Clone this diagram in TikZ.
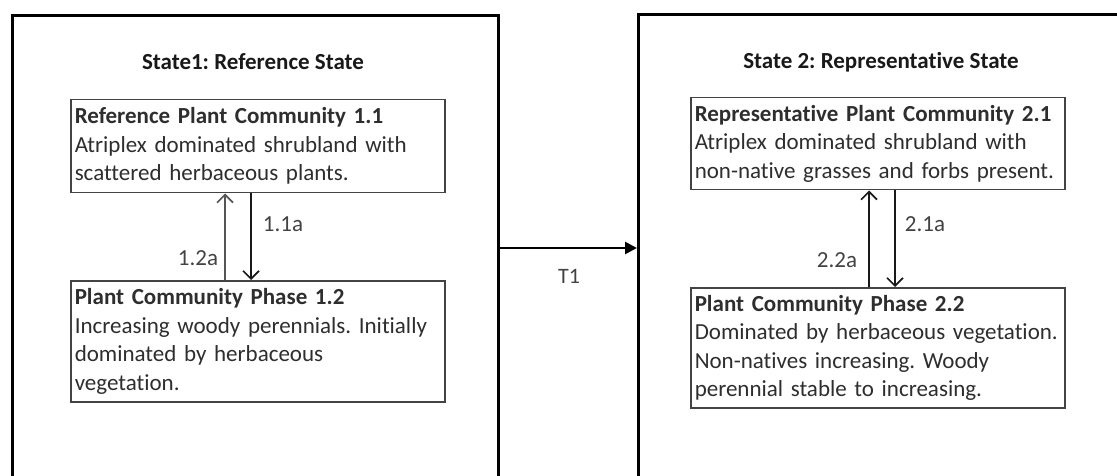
\documentclass[tikz,border=0pt]{standalone}
\usepackage{fontspec}
\setmainfont{Carlito}[Ligatures=CommonOff]
\usetikzlibrary{arrows.meta}
\definecolor{txt}{HTML}{2E2E2E}
\definecolor{upgray}{HTML}{555555}
\tikzset{
  statebox/.style={draw=black, line width=3pt, minimum width=#1, anchor=north west, inner sep=0pt},
  statetitle/.style={font=\fontsize{23}{27}\selectfont\bfseries, text=black!90},
  phasebox/.style={draw=txt!90, line width=1.5pt, anchor=north west, text width=366pt, align=left,
     inner xsep=4pt, inner ysep=0pt, font=\fontsize{23}{28.5}\selectfont, text=txt},
  lbl/.style={font=\fontsize{23}{27}\selectfont, text=txt!90},
  barb/.style={-{Straight Barb[length=8pt,width=16pt,line width=1.6pt]}},
  downarr/.style={draw=black!90, line width=1.6pt, barb},
  uparr/.style={draw=upgray, line width=2.6pt, barb},
  trarr/.style={draw=black, line width=2.6pt, -{Triangle[length=12pt,width=12pt]}},
}
\begin{document}
\frenchspacing
\begin{tikzpicture}[x=1pt,y=-1pt]
\useasboundingbox[fill=white] (0,0) rectangle (1117,476);
% state boxes
\node[statebox=486pt, minimum height=540pt] (s1) at (11,14) {};
\node[statebox=520pt, minimum height=540pt] (s2) at (637,13) {};
\node[statetitle] (t1) at (253,62) {State1: Reference State};
\node[statetitle] (t2) at (881,62) {State 2: Representative State};
% phase boxes
\node[phasebox, minimum height=93pt] (b11) at (70,99)
 {\textbf{Reference Plant Community 1.1}\\Atriplex dominated shrubland with\\scattered herbaceous plants.};
\node[phasebox, minimum height=121pt] (b12) at (70,280)
 {\textbf{Plant Community Phase 1.2}\\Increasing woody perennials. Initially\\dominated by herbaceous\\vegetation.};
\node[phasebox, minimum height=92pt] (b21) at (690,97)
 {\textbf{Representative Plant Community 2.1}\\Atriplex dominated shrubland with\\non-native grasses and forbs present.};
\node[phasebox, minimum height=120pt] (b22) at (690,287)
 {\textbf{Plant Community Phase 2.2}\\Dominated by herbaceous vegetation.\\Non-natives increasing. Woody\\perennial stable to increasing.};
% coordinates for arrow positions
\coordinate (xa) at (225,0);
\coordinate (xb) at (251,0);
\coordinate (xc) at (869,0);
\coordinate (xd) at (895,0);
\coordinate (yt) at (0,248);
% arrows within states
\draw[uparr] (b12.north -| xa) -- (b11.south -| xa);
\draw[downarr] (b11.south -| xb) -- (b12.north -| xb);
\draw[downarr] (b22.north -| xc) -- (b21.south -| xc);
\draw[downarr] (b21.south -| xd) -- (b22.north -| xd);
\node[lbl] (l11a) at (283,224) {1.1a};
\node[lbl] (l12a) at (198,258) {1.2a};
\node[lbl] (l21a) at (925,224) {2.1a};
\node[lbl] (l22a) at (837,260) {2.2a};
% transition
\draw[trarr] (s1.east |- yt) -- (s2.west |- yt);
\node[lbl, font=\fontsize{22}{26}\selectfont] (lt1) at (569,276) {T1};
\end{tikzpicture}
\end{document}
